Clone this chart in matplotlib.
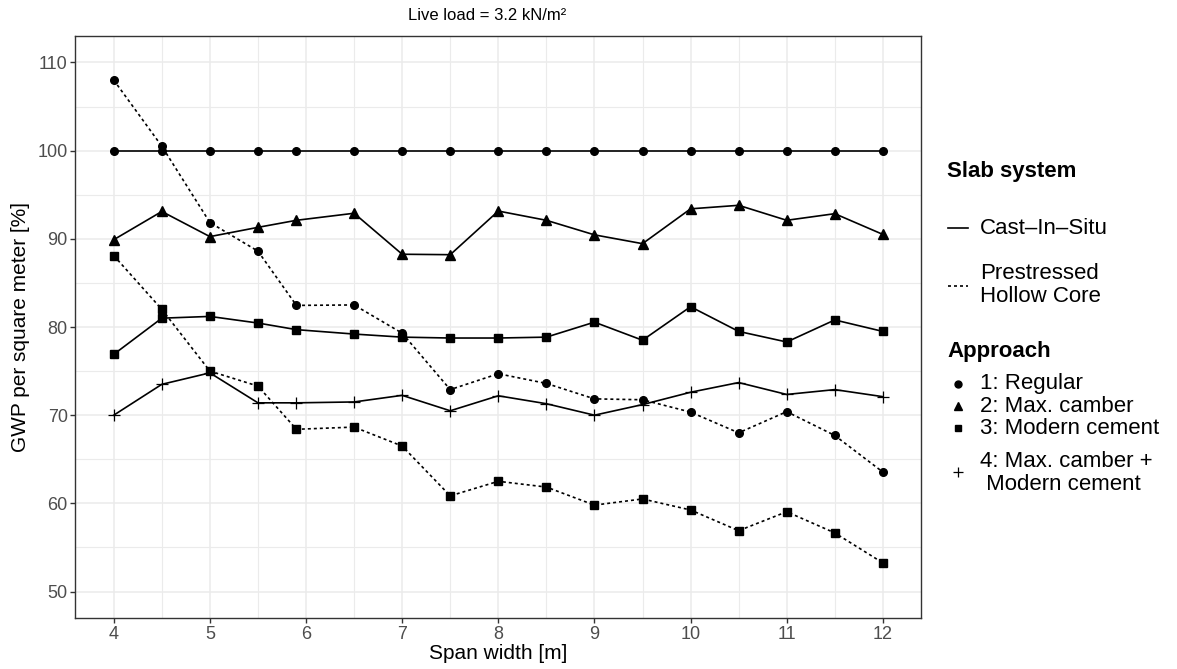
import numpy as np
import matplotlib.pyplot as plt
from matplotlib.lines import Line2D

plt.rcParams.update({"font.family": ["Liberation Sans", "DejaVu Sans"]})

span = [4, 4.5, 5, 5.5, 5.9, 6.5, 7, 7.5, 8, 8.5, 9, 9.5, 10, 10.5, 11, 11.5, 12]

cis_regular = [100] * 17
cis_camber = [89.9, 93.1, 90.25, 91.3, 92.1, 92.9, 88.25, 88.2, 93.15, 92.1, 90.45,
              89.45, 93.4, 93.8, 92.1, 92.85, 90.5]
cis_cement = [76.9, 81.0, 81.2, 80.45, 79.7, 79.2, 78.85, 78.75, 78.75, 78.85, 80.55,
              78.5, 82.3, 79.5, 78.3, 80.8, 79.5]
cis_both = [70.0, 73.5, 74.8, 71.4, 71.4, 71.5, 72.25, 70.5, 72.2, 71.3, 70.0,
            71.2, 72.6, 73.7, 72.35, 72.9, 72.1]
phc_regular = [108.0, 100.5, 91.85, 88.6, 82.45, 82.5, 79.3, 72.9, 74.7, 73.6, 71.85,
               71.75, 70.35, 68.0, 70.4, 67.7, 63.55]
phc_cement = [88.1, 82.0, 75.0, 73.3, 68.4, 68.65, 66.5, 60.85, 62.5, 61.85, 59.8,
              60.5, 59.25, 56.9, 59.05, 56.65, 53.25]

W, H = 1177, 669
fig = plt.figure(figsize=(W / 100, H / 100), dpi=100)
ax = fig.add_axes([75.3 / W, 1 - 618 / H, (921.3 - 75.3) / W, (618 - 36) / H])

GRID = "#ebebeb"
ax.set_xlim(3.6, 12.4)
ax.set_ylim(47, 113)
ax.set_xticks(range(4, 13))
ax.set_yticks(range(50, 111, 10))
ax.set_xticks(np.arange(4.5, 12, 1), minor=True)
ax.set_yticks(np.arange(55, 110, 10), minor=True)
ax.grid(which="major", color=GRID, linewidth=1.1)
ax.grid(which="minor", color=GRID, linewidth=0.8)
ax.set_axisbelow(True)
for s in ax.spines.values():
    s.set_color("#333333")
    s.set_linewidth(1.0)
ax.tick_params(which="major", length=3.5, width=1.0, color="#333333",
               labelsize=13, labelcolor="#4d4d4d", pad=2)
ax.tick_params(which="minor", length=0)

solid = dict(color="black", linewidth=1.2)
dot = dict(color="black", linewidth=1.2, linestyle=(0, (1.8, 1.8)))
ax.plot(span, cis_regular, marker="o", markersize=5.5, **solid)
ax.plot(span, cis_camber, marker="^", markersize=7.5, **solid)
ax.plot(span, cis_cement, marker="s", markersize=6, **solid)
ax.plot(span, cis_both, marker="+", markersize=9, markeredgewidth=0.9, **solid)
ax.plot(span, phc_regular, marker="o", markersize=5.5, **dot)
ax.plot(span, phc_cement, marker="s", markersize=6, **dot)

ax.set_xlabel("Span width [m]", fontsize=15, labelpad=1)
ax.set_ylabel("GWP per square meter [%]", fontsize=15, labelpad=5)
fig.text(487 / W, 1 - 16 / H, "Live load = 3.2 kN/m²", ha="center", va="center", fontsize=12)


# legend drawn in figure pixel coordinates
def fx(px):
    return px / W


def fy(py):
    return 1 - py / H


LEG = 16
fig.text(fx(947), fy(172), "Slab system", fontsize=LEG, fontweight="bold", va="center")
fig.add_artist(Line2D([fx(948), fx(968)], [fy(228), fy(228)], transform=fig.transFigure, **solid))
fig.text(fx(980), fy(228), "Cast–In–Situ", fontsize=LEG, va="center")
fig.add_artist(Line2D([fx(948), fx(968)], [fy(286), fy(286)], transform=fig.transFigure, **dot))
fig.text(fx(980), fy(285), "Prestressed\nHollow Core", fontsize=LEG, va="center", linespacing=1.08)

fig.text(fx(947), fy(351), "Approach", fontsize=LEG, fontweight="bold", va="center")
keys = [("o", 5, 384, "1: Regular"), ("^", 5.5, 406, "2: Max. camber"),
        ("s", 5, 428, "3: Modern cement")]
for m, ms, py, lab in keys:
    fig.add_artist(Line2D([fx(958)], [fy(py)], transform=fig.transFigure, marker=m,
                          markersize=ms, color="black", linestyle="none"))
    fig.text(fx(980), fy(py), lab, fontsize=LEG, va="center")
fig.add_artist(Line2D([fx(958)], [fy(472)], transform=fig.transFigure, marker="+",
                      markersize=7, markeredgewidth=0.9, color="black", linestyle="none"))
fig.text(fx(980), fy(473), "4: Max. camber +\n Modern cement", fontsize=LEG, va="center",
         linespacing=1.08)

fig.savefig("out.png", dpi=100)
